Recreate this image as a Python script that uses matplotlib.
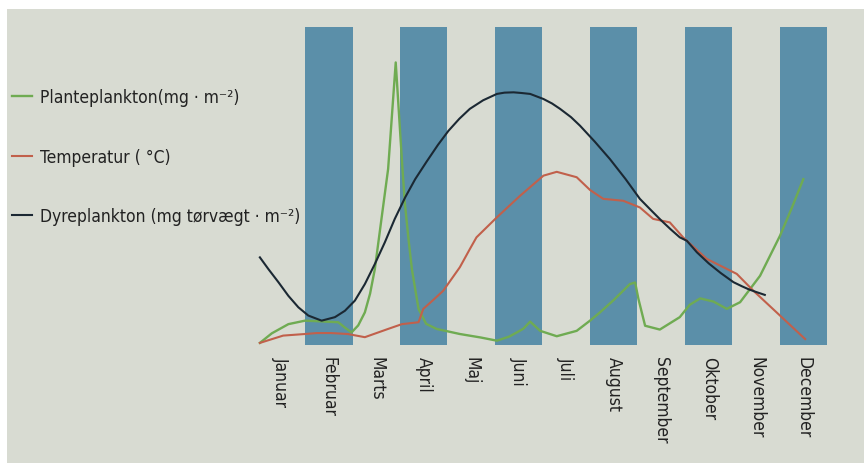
import matplotlib.pyplot as plt
from matplotlib.patches import Rectangle
from matplotlib import font_manager

months = ['Januar', 'Februar', 'Marts', 'April', 'Maj', 'Juni', 'Juli',
          'August', 'September', 'Oktober', 'November', 'December']
# every second month gets a blue column
bar_months = [1, 3, 5, 7, 9, 11]

# Planteplankton (green)
plante_x = [0.05, 0.3, 0.65, 1.0, 1.3, 1.7, 1.85, 1.98, 2.12, 2.26, 2.37, 2.47,
            2.61, 2.75, 2.91, 3.04, 3.1, 3.18, 3.25, 3.39, 3.55, 3.77, 4.26, 4.7,
            5.04, 5.3, 5.46, 5.6, 5.74, 5.95, 6.3, 6.72, 7.0, 7.21, 7.5, 7.84,
            7.95, 8.02, 8.16, 8.47, 8.89, 9.1, 9.32, 9.6, 9.88, 10.16, 10.58,
            11.0, 11.25, 11.49]
plante_y = [0.5, 3.5, 6.4, 7.5, 7.3, 7.0, 5.2, 3.8, 6.0, 10.1, 16.0, 23.7,
            39.5, 55.2, 88.7, 58.0, 44.8, 33.0, 23.7, 11.2, 6.5, 4.9, 3.3, 2.2,
            1.2, 2.5, 3.8, 5.0, 7.2, 4.3, 2.6, 4.3, 7.5, 10.1, 14.0, 19.0,
            19.5, 14.3, 5.9, 4.7, 8.6, 12.5, 14.5, 13.5, 11.2, 13.3, 21.6,
            34.2, 43.0, 52]

# Temperatur (red)
temp_x = [0.05, 0.54, 1.0, 1.25, 1.55, 1.9, 2.26, 2.75, 3.04, 3.39, 3.49,
          3.7, 3.91, 4.26, 4.47, 4.61, 5.04, 5.53, 6.02, 6.3, 6.72, 7.0, 7.28,
          7.7, 8.05, 8.33, 8.68, 8.96, 9.46, 10.09, 10.44, 11.0, 11.53]
temp_y = [0.5, 2.8, 3.3, 3.6, 3.6, 3.3, 2.3, 4.9, 6.4, 7.0, 11.2,
          14.0, 16.9, 24.3, 30.0, 33.7, 40.0, 46.8, 53.1, 54.3, 52.6, 48.6, 45.8,
          45.2, 43.1, 39.5, 38.4, 33.7, 26.9, 22.2, 16.9, 9.1, 1.7]

# Dyreplankton (black)
dyre_x = [0.05, 0.23, 0.44, 0.65, 0.86, 1.07, 1.35, 1.63, 1.84, 2.05, 2.26,
          2.47, 2.68, 2.89, 3.11, 3.32, 3.56, 3.8, 4.02, 4.25, 4.47, 4.75, 5.04,
          5.2, 5.39, 5.55, 5.74, 6.02, 6.2, 6.37, 6.6, 6.79, 7.1, 7.42, 7.75,
          8.05, 8.3, 8.5, 8.7, 8.89, 9.04, 9.25, 9.5, 9.75, 10.02, 10.2, 10.35,
          10.5, 10.68]
dyre_y = [27.4, 23.7, 19.6, 15.3, 11.7, 9.1, 7.5, 8.6, 10.6, 13.8, 19.0,
          25.3, 32.1, 39.5, 46.3, 52.0, 57.5, 62.8, 67.2, 71.0, 74.1, 76.8, 78.8,
          79.2, 79.3, 79.1, 78.8, 77.2, 75.8, 74.1, 71.5, 68.8, 63.8, 58.3, 52.0,
          45.8, 42.0, 39.0, 36.2, 33.7, 32.6, 29.0, 25.5, 22.5, 19.6, 18.3, 17.3,
          16.5, 15.6]

bg = '#d8dbd2'

# a condensed face is closest to the original lettering
cand = [f for f in font_manager.fontManager.ttflist
        if ('Narrow' in f.name or 'Condensed' in f.name or 'ondensed' in f.fname
            or 'Narrow' in f.fname)
        and f.style == 'normal' and f.weight in (400, 'normal', 'regular')]
cand.sort(key=lambda f: ('Liberation' not in f.fname, 'DejaVu' not in f.fname))
if cand:
    def fp(size):
        return font_manager.FontProperties(fname=cand[0].fname, size=size)
else:
    def fp(size):
        return font_manager.FontProperties(family='Roboto', size=size * 0.85)

fig = plt.figure(figsize=(8.64, 4.64), dpi=100)
fig.patch.set_facecolor('white')
fig.add_artist(Rectangle((7 / 864, 0), 1, 1 - 10 / 464, transform=fig.transFigure,
                         facecolor=bg, edgecolor='none', zorder=0))

ax = fig.add_axes([257.5 / 864, 118.5 / 464, 570 / 864, 318 / 464])
ax.set_facecolor('none')

ax.bar([m + 0.5 for m in bar_months], [100] * len(bar_months), width=1.0,
       color='#5b8fa9', zorder=1)

ax.plot(plante_x, plante_y, color='#6fab52', lw=1.7, zorder=3,
        solid_joinstyle='round', label='Planteplankton(mg · m⁻²)')
ax.plot(temp_x, temp_y, color='#c1604b', lw=1.5, zorder=3,
        solid_joinstyle='round', label='Temperatur ( °C)')
ax.plot(dyre_x, dyre_y, color='#1b2833', lw=1.5, zorder=4,
        solid_joinstyle='round', label='Dyreplankton (mg tørvægt · m⁻²)')

ax.set_xlim(0, 12)
ax.set_ylim(0, 100)
ax.set_xticks([i + 0.5 for i in range(12)])
ax.set_xticklabels(months, rotation=270, va='top', ha='center')
for t in ax.get_xticklabels():
    t.set_fontproperties(fp(12.5))
ax.tick_params(axis='x', length=0, pad=8, colors='#222222')
ax.set_yticks([])
for s in ax.spines.values():
    s.set_visible(False)

leg = fig.legend(loc='upper left', bbox_to_anchor=(12 / 864, 1 - 89 / 464),
                 frameon=False, prop=fp(12.5),
                 handlelength=1.15, handletextpad=0.45, labelspacing=2.4,
                 borderpad=0, borderaxespad=0)
for t in leg.get_texts():
    t.set_color('#222222')

fig.savefig('out.png', dpi=100, facecolor=fig.get_facecolor())
